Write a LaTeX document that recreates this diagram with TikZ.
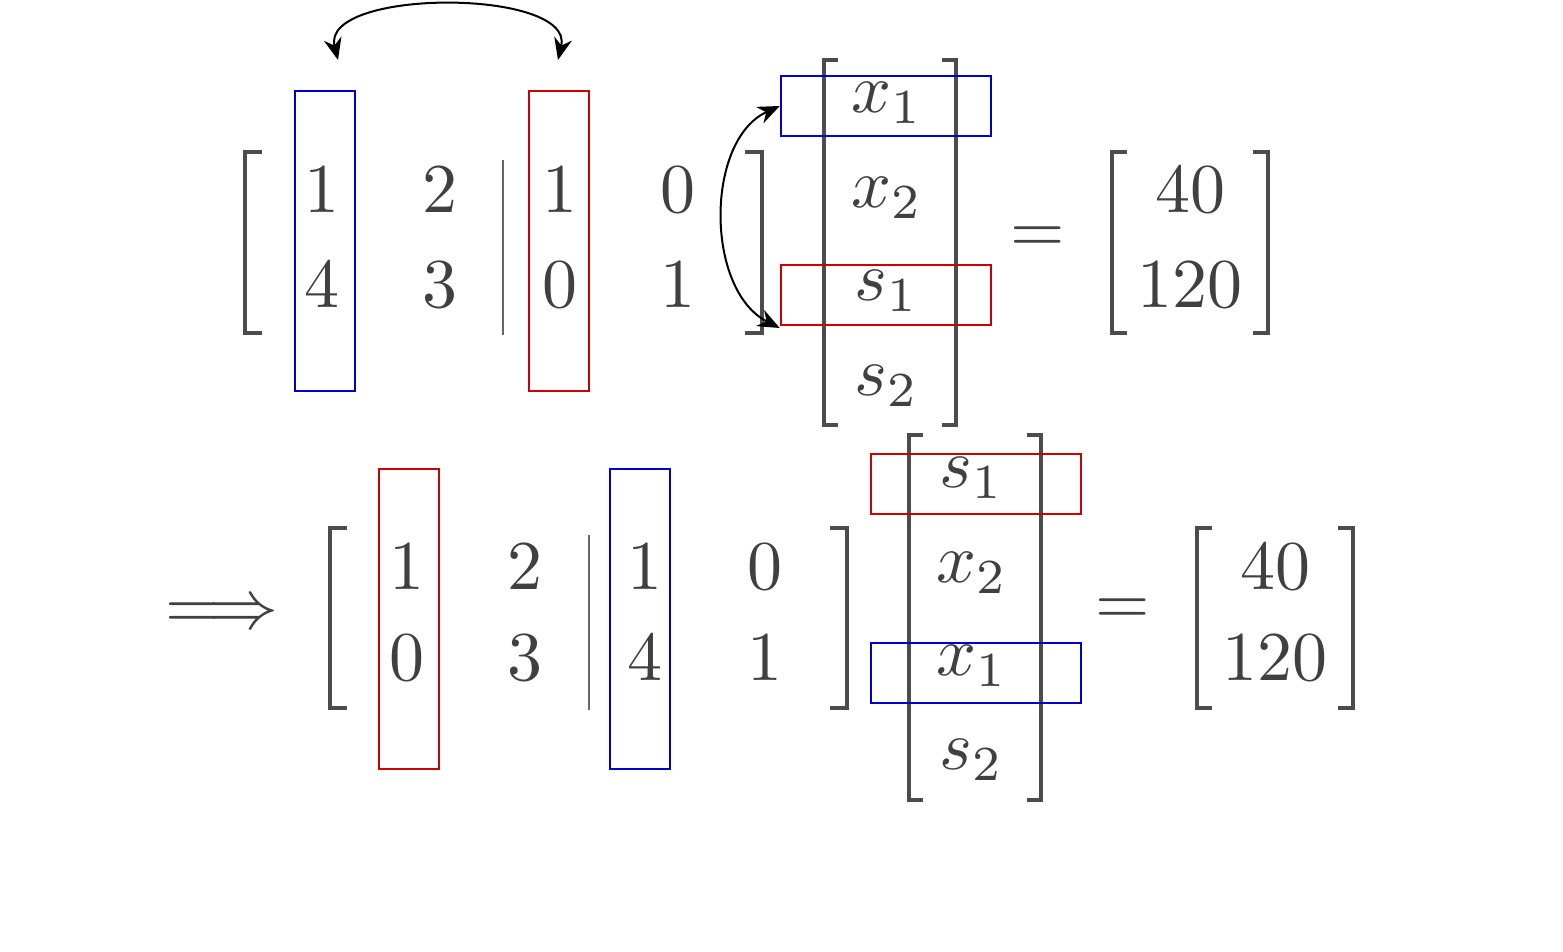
\documentclass[tikz,border=0pt]{standalone}
\usepackage{graphicx}
\usetikzlibrary{arrows.meta}
\newcommand{\mybig}[1]{\scalebox{7}{$#1$}}
\begin{document}
\begin{tikzpicture}[x=1pt,y=-1pt,
 mt/.style={text=black!75,inner sep=0pt},
 br/.style={draw=black!70,line width=3.5pt},
 bx/.style={draw,line width=2.5pt},
 arr/.style={{Stealth[length=22pt,width=18pt]}-{Stealth[length=22pt,width=18pt]},line width=2pt}]
\useasboundingbox (0,0) rectangle (1563,951);
% ---- top row
\draw[br] (262,152)--(245,152)--(245,333)--(262,333);
\draw[br] (745,152)--(762,152)--(762,333)--(745,333);
\draw[black!60,line width=2pt] (503,160)--(503,335);
\foreach \x/\a/\b [count=\i] in {322/1/4,440/2/3,560/1/0,678/0/1}{
 \node[mt] (ta\i) at (\x,190) {\mybig{\a}};
 \node[mt] (tb\i) at (\x,285) {\mybig{\b}};}
\draw[br] (838,60)--(824,60)--(824,425)--(838,425);
\draw[br] (942,60)--(956,60)--(956,425)--(942,425);
\node[mt] (tv1) at (887,103) {\mybig{x_1}};
\node[mt] (tv2) at (887,198) {\mybig{x_2}};
\node[mt] (tv3) at (887,291) {\mybig{s_1}};
\node[mt] (tv4) at (887,386) {\mybig{s_2}};
\node[mt] (teq) at (1038,240) {\mybig{=}};
\draw[br] (1127,152)--(1112,152)--(1112,333)--(1127,333);
\draw[br] (1253,152)--(1268,152)--(1268,333)--(1253,333);
\node[mt] (tr1) at (1190,190) {\mybig{40}};
\node[mt] (tr2) at (1190,285) {\mybig{120}};
\node[bx,draw=blue!80!black,minimum width=60pt,minimum height=300pt] (tbc) at (325,241) {};
\node[bx,draw=red!80!black,minimum width=60pt,minimum height=300pt] (trc) at (559,241) {};
\node[bx,draw=blue!80!black,minimum width=210pt,minimum height=60pt] (tbv) at (886,106) {};
\node[bx,draw=red!80!black,minimum width=210pt,minimum height=60pt] (trv) at (886,295) {};
\coordinate (ca) at (338,60); \coordinate (cb) at (558,60);
\draw[arr] (ca) .. controls (320,-12) and (575,-12) .. (cb);
\draw[arr] (tbv.west) .. controls (705,140) and (705,290) .. (trv.west|-0,328);
% ---- bottom row
\node[mt] (imp) at (222,616) {\mybig{\Longrightarrow}};
\draw[br] (347,528)--(330,528)--(330,708)--(347,708);
\draw[br] (830,528)--(847,528)--(847,708)--(830,708);
\draw[black!60,line width=2pt] (589,535)--(589,710);
\foreach \x/\a/\b [count=\i] in {407/1/0,525/2/3,645/1/4,765/0/1}{
 \node[mt] (ba\i) at (\x,567) {\mybig{\a}};
 \node[mt] (bb\i) at (\x,658) {\mybig{\b}};}
\draw[br] (923,435)--(909,435)--(909,800)--(923,800);
\draw[br] (1027,435)--(1041,435)--(1041,800)--(1027,800);
\node[mt] (bv1) at (972,478) {\mybig{s_1}};
\node[mt] (bv2) at (972,573) {\mybig{x_2}};
\node[mt] (bv3) at (972,666) {\mybig{x_1}};
\node[mt] (bv4) at (972,760) {\mybig{s_2}};
\node[mt] (beq) at (1123,612) {\mybig{=}};
\draw[br] (1212,528)--(1197,528)--(1197,708)--(1212,708);
\draw[br] (1338,528)--(1353,528)--(1353,708)--(1338,708);
\node[mt] (br1) at (1275,567) {\mybig{40}};
\node[mt] (br2) at (1275,658) {\mybig{120}};
\node[bx,draw=red!80!black,minimum width=60pt,minimum height=300pt] (brc) at (409,619) {};
\node[bx,draw=blue!80!black,minimum width=60pt,minimum height=300pt] (bbc) at (640,619) {};
\node[bx,draw=red!80!black,minimum width=210pt,minimum height=60pt] (brv) at (976,484) {};
\node[bx,draw=blue!80!black,minimum width=210pt,minimum height=60pt] (bbv) at (976,673) {};
\end{tikzpicture}
\end{document}
